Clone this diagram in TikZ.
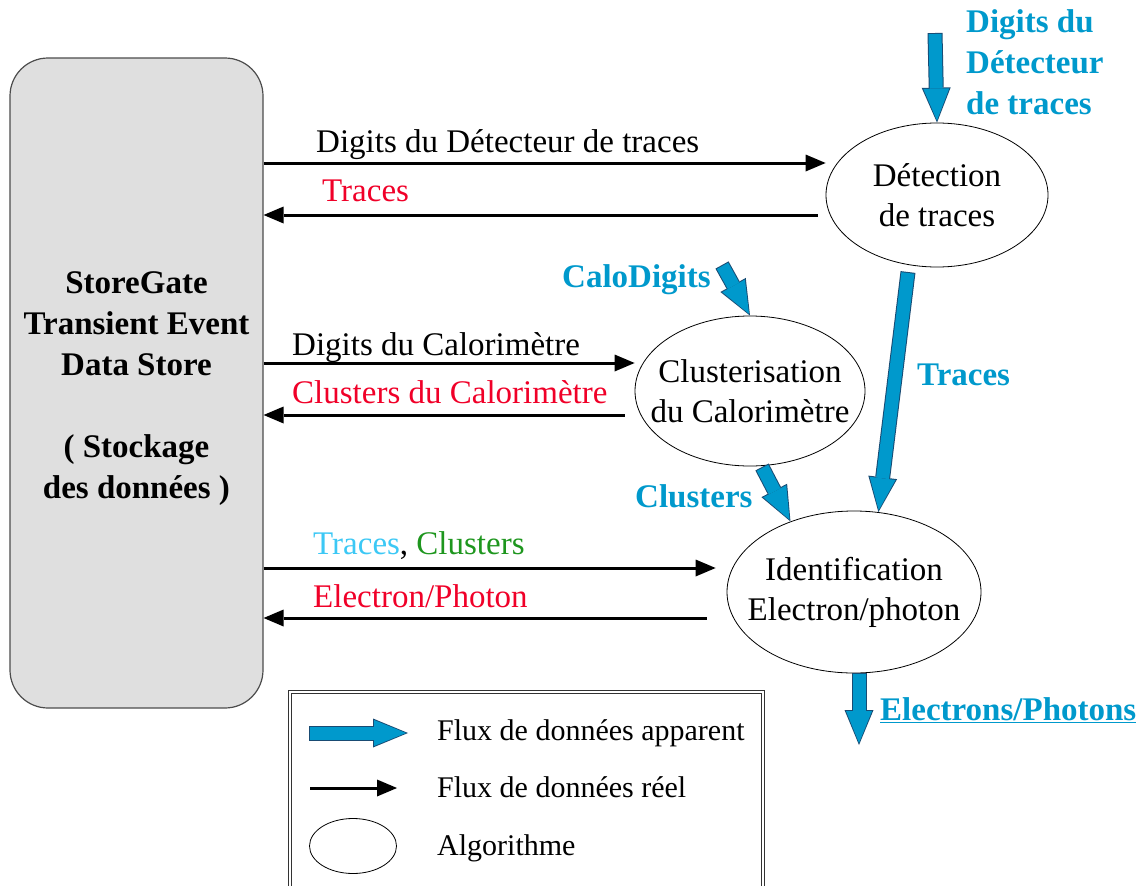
\documentclass[tikz,border=0pt]{standalone}
\usepackage{fontspec}
\setmainfont{Liberation Serif}
\usetikzlibrary{arrows.meta,shapes.geometric,positioning}

\definecolor{fluxblue}{RGB}{0,153,204}
\definecolor{fluxdark}{RGB}{25,75,115}
\definecolor{traceblue}{RGB}{60,200,245}
\definecolor{clugreen}{RGB}{30,150,30}
\definecolor{outred}{RGB}{240,0,40}

\tikzset{
  store/.style={draw=black!70, fill=gray!25, rounded corners=38pt, line width=1.2pt,
    minimum width=253pt, minimum height=650pt},
  storetext/.style={align=center, inner sep=0pt, font=\fontsize{33}{41}\selectfont\bfseries},
  algo/.style={draw, ellipse, line width=0.8pt, inner xsep=-25pt, inner ysep=0pt,
    align=center, font=\fontsize{33}{40}\selectfont},
  real/.style={line width=3pt, -{Triangle[length=20pt,width=17pt,line width=0pt]}},
  fluxedge/.style={line width=15pt, draw=fluxdark,
    -{Triangle[length=35pt,width=29pt,line width=0pt]}},
  flux/.style={line width=13pt, draw=fluxblue,
    -{Triangle[length=32pt,width=26pt,line width=0pt]}, shorten <=1pt, shorten >=2pt},
  lbl/.style={anchor=base west, inner sep=0pt, font=\fontsize{33}{40}\selectfont},
  blbl/.style={lbl, text=fluxblue, font=\fontsize{33}{41}\selectfont\bfseries},
  leg/.style={lbl, font=\fontsize{30}{36}\selectfont}
}
\newcommand{\fluxarrow}[2]{\draw[fluxedge] #1 -- #2; \draw[flux] #1 -- #2;}

\begin{document}
\begin{tikzpicture}[x=1pt,y=-1pt]
	\clip (0,0) rectangle (1146,886);
	% Data store and algorithms
	\node[store] (store) at (136.5,383) {};
	\node[storetext] (storetxt) at ([yshift=-6pt]store.center) {StoreGate\\Transient Event\\Data Store\\[41pt]( Stockage\\des données )};
	\node[algo, minimum width=222pt, minimum height=144pt] (det) at (937,195) {Détection\\de traces};
	\node[algo, minimum width=230pt, minimum height=150pt] (clu) at (750,391) {Clusterisation\\du Calorimètre};
	\node[algo, minimum width=254pt, minimum height=162pt] (ident) at (854,592) {Identification\\Electron/photon};

	% Real data flow
	\draw[real] (store.east |- 0,163) -- (det.west |- 0,163);
	\draw[real, shorten <=8pt] (det.west |- 0,215) -- (store.east |- 0,215);
	\draw[real] (store.east |- 0,363) -- (clu.west |- 0,363);
	\draw[real, shorten <=10pt] (clu.west |- 0,415) -- (store.east |- 0,415);
	\draw[real, shorten >=11pt] (store.east |- 0,568) -- (ident.west |- 0,568);
	\draw[real, shorten <=20pt] (ident.west |- 0,618) -- (store.east |- 0,618);

	\node[lbl] (l1) at (316,152) {Digits du Détecteur de traces};
	\node[lbl, text=outred] (l2) at (322,201) {Traces};
	\node[lbl] (l3) at (292,355) {Digits du Calorimètre};
	\node[lbl, text=outred] (l4) at (292,403) {Clusters du Calorimètre};
	\node[lbl] (l5) at (313,554) {\textcolor{traceblue}{Traces}, \textcolor{clugreen}{Clusters}};
	\node[lbl, text=outred] (l6) at (313,607) {Electron/Photon};

	% Apparent data flow
	\coordinate (dtop) at (935,33);
	\coordinate (cdtop) at (722,265);
	\coordinate (trtop) at (908,272);
	\coordinate (clbot) at (762,467);
	\coordinate (epend) at (859,745);
	\fluxarrow{(dtop)}{(det.north)}
	\fluxarrow{(cdtop)}{(clu.north)}
	\fluxarrow{(trtop)}{(ident.73)}
	\fluxarrow{(clbot)}{(ident.132)}
	\fluxarrow{(ident.south -| epend)}{(epend)}

	\node[blbl, anchor=north west, align=left] (b1) at (966,9) {Digits du\\Détecteur\\de traces};
	\node[blbl] (b2) at (562,287) {CaloDigits};
	\node[blbl] (b3) at (917,385) {Traces};
	\node[blbl] (b4) at (635,507) {Clusters};
	\node[blbl] (b5) at (880,720) {\underline{Electrons/Photons}};

	% Legend
	\draw[black!80, double, double distance=2pt, line width=1pt] (290,692) rectangle (763,900);
	\coordinate (lga) at (309,733);
	\coordinate (lgb) at (408,733);
	\coordinate (lra) at (310,788);
	\coordinate (lrb) at (397,788);
	\fluxarrow{(lga)}{(lgb)}
	\draw[real] (lra) -- (lrb);
	\node[algo, minimum width=87pt, minimum height=55pt] (lalgo) at (353,846) {};
	\node[leg] (t1) at (437,740) {Flux de données apparent};
	\node[leg] (t2) at (437,797) {Flux de données réel};
	\node[leg] (t3) at (437,855) {Algorithme};
\end{tikzpicture}
\end{document}
